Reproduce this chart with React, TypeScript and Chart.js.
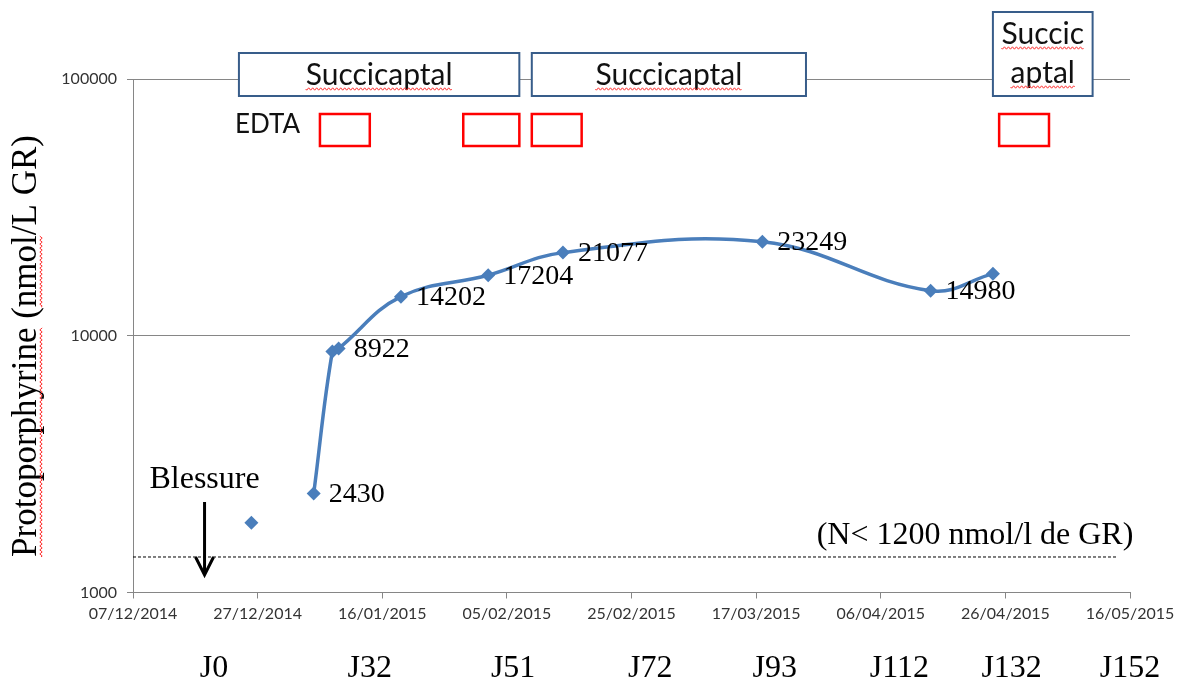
import React, { useEffect, useRef } from 'react';
import { Chart, registerables } from 'chart.js';

Chart.register(...registerables);

// ---- Data ----
const seriesDates = ['05/01/2015', '08/01/2015', '09/01/2015', '19/01/2015', '02/02/2015', '14/02/2015', '18/03/2015', '14/04/2015', '24/04/2015'];
const seriesValues = [2430, 8690, 8922, 14202, 17204, 21077, 23249, 14980, 17450];
const seriesLabels = ['2430', '', '8922', '14202', '17204', '21077', '23249', '14980', ''];
const isolatedDates = ['26/12/2014'];
const isolatedValues = [1870];

const xStart = '07/12/2014';
const xEnd = '16/05/2015';
const xStepDays = 20;
const yTicks = [1000, 10000, 100000];

const dayLabels = ['J0', 'J32', 'J51', 'J72', 'J93', 'J112', 'J132', 'J152'];
const dayLabelDates = ['20/12/2014', '14/01/2015', '06/02/2015', '28/02/2015', '20/03/2015', '09/04/2015', '27/04/2015', '16/05/2015'];

const treatmentLabels = [['Succicaptal'], ['Succicaptal'], ['Succic', 'aptal']];
const treatmentStarts = ['24/12/2014', '09/02/2015', '24/04/2015'];
const treatmentEnds = ['07/02/2015', '25/03/2015', '10/05/2015'];
const edtaStarts = ['06/01/2015', '29/01/2015', '09/02/2015', '25/04/2015'];
const edtaEnds = ['14/01/2015', '07/02/2015', '17/02/2015', '03/05/2015'];
const edtaLabel = 'EDTA';

const injuryLabel = 'Blessure';
const injuryDate = '18/12/2014';
const normalLabel = '(N< 1200 nmol/l de GR)';
const normalValue = 1375;
const normalEnd = '14/05/2015';
const yTitle = 'Protoporphyrine (nmol/L GR)';

// ---- helpers ----
const DAY = 86400000;
const toMs = (s: string) => {
  const [d, m, y] = s.split('/').map(Number);
  return Date.UTC(y, m - 1, d);
};
const pad = (n: number) => (n < 10 ? '0' + n : '' + n);
const fmt = (ms: number) => {
  const dt = new Date(ms);
  return pad(dt.getUTCDate()) + '/' + pad(dt.getUTCMonth() + 1) + '/' + dt.getUTCFullYear();
};
const xTickValues: number[] = [];
for (let t = toMs(xStart); t <= toMs(xEnd); t += xStepDays * DAY) xTickValues.push(t);

const SERIF = '"Liberation Serif", "Times New Roman", serif';
const SANS = 'Lato, "Open Sans", sans-serif';
const BLUE = '#4A7EBB';

function wavy(ctx: CanvasRenderingContext2D, x0: number, x1: number, y: number) {
  ctx.save();
  ctx.strokeStyle = '#FF3030';
  ctx.lineWidth = 1;
  ctx.beginPath();
  for (let x = x0; x <= x1; x += 1) {
    const yy = y + 1.2 * Math.sin(((x - x0) / 4) * 2 * Math.PI);
    if (x === x0) ctx.moveTo(x, yy);
    else ctx.lineTo(x, yy);
  }
  ctx.stroke();
  ctx.restore();
}

const decorPlugin = {
  id: 'decor',
  afterDatasetsDraw(chart: any) {
    const ctx: CanvasRenderingContext2D = chart.ctx;
    const xs = chart.scales.x;
    const ys = chart.scales.y;
    const area = chart.chartArea;

    // data labels
    const meta = chart.getDatasetMeta(0);
    ctx.save();
    ctx.fillStyle = '#000';
    ctx.font = '28px ' + SERIF;
    ctx.textAlign = 'left';
    ctx.textBaseline = 'middle';
    meta.data.forEach((el: any, i: number) => {
      const lab = seriesLabels[i];
      if (lab) ctx.fillText(lab, el.x + 15, el.y + 1);
    });
    ctx.restore();

    // normal reference dashed line
    ctx.save();
    const ny = ys.getPixelForValue(normalValue);
    ctx.strokeStyle = '#000';
    ctx.lineWidth = 1;
    ctx.setLineDash([3, 2]);
    ctx.beginPath();
    ctx.moveTo(area.left, ny);
    ctx.lineTo(xs.getPixelForValue(toMs(normalEnd)), ny);
    ctx.stroke();
    ctx.setLineDash([]);
    ctx.fillStyle = '#000';
    ctx.font = '32px ' + SERIF;
    ctx.textAlign = 'center';
    ctx.textBaseline = 'alphabetic';
    ctx.fillText(normalLabel, 975, ny - 13);
    ctx.restore();

    // injury arrow
    ctx.save();
    const ax = xs.getPixelForValue(toMs(injuryDate)) + 3;
    ctx.fillStyle = '#000';
    ctx.font = '32px ' + SERIF;
    ctx.textAlign = 'center';
    ctx.textBaseline = 'alphabetic';
    ctx.fillText(injuryLabel, ax, 488);
    ctx.strokeStyle = '#000';
    ctx.lineWidth = 3;
    ctx.beginPath();
    ctx.moveTo(ax, 502);
    ctx.lineTo(ax, 572);
    ctx.stroke();
    ctx.beginPath();
    ctx.moveTo(ax - 9, 557);
    ctx.lineTo(ax, 575);
    ctx.lineTo(ax + 9, 557);
    ctx.stroke();
    ctx.restore();

    // treatment boxes
    ctx.save();
    treatmentLabels.forEach((lines, i) => {
      const x0 = xs.getPixelForValue(toMs(treatmentStarts[i]));
      const x1 = xs.getPixelForValue(toMs(treatmentEnds[i]));
      const top = lines.length > 1 ? 12 : 53;
      const bottom = 96;
      ctx.fillStyle = '#fff';
      ctx.fillRect(x0, top, x1 - x0, bottom - top);
      ctx.strokeStyle = '#385D8A';
      ctx.lineWidth = 2;
      ctx.strokeRect(x0, top, x1 - x0, bottom - top);
      ctx.fillStyle = '#111';
      ctx.font = '30px ' + SANS;
      ctx.textAlign = 'center';
      ctx.textBaseline = 'alphabetic';
      const cx = (x0 + x1) / 2;
      lines.forEach((t, j) => {
        const by = lines.length > 1 ? 44 + j * 39 : 85;
        ctx.fillText(t, cx, by);
        const w = ctx.measureText(t).width;
        wavy(ctx, cx - w / 2, cx + w / 2, by + 4);
      });
    });
    ctx.restore();

    // EDTA
    ctx.save();
    ctx.fillStyle = '#111';
    ctx.font = '26px ' + SANS;
    ctx.textAlign = 'left';
    ctx.textBaseline = 'alphabetic';
    ctx.fillText(edtaLabel, 235, 133);
    ctx.strokeStyle = '#FF0000';
    ctx.lineWidth = 2.5;
    edtaStarts.forEach((s, i) => {
      const x0 = xs.getPixelForValue(toMs(s));
      const x1 = xs.getPixelForValue(toMs(edtaEnds[i]));
      ctx.strokeRect(x0, 114, x1 - x0, 32);
    });
    ctx.restore();

    // day labels
    ctx.save();
    ctx.fillStyle = '#000';
    ctx.font = '32px ' + SERIF;
    ctx.textAlign = 'center';
    ctx.textBaseline = 'alphabetic';
    dayLabels.forEach((t, i) => {
      ctx.fillText(t, xs.getPixelForValue(toMs(dayLabelDates[i])), 677);
    });
    ctx.restore();

    // y title
    ctx.save();
    ctx.translate(36, 346);
    ctx.rotate(-Math.PI / 2);
    ctx.fillStyle = '#000';
    ctx.font = '35px ' + SERIF;
    ctx.textAlign = 'center';
    ctx.textBaseline = 'alphabetic';
    ctx.fillText(yTitle, 0, 0);
    const total = ctx.measureText(yTitle).width;
    const w1 = ctx.measureText('Protoporphyrine').width;
    const wPre = ctx.measureText('Protoporphyrine (').width;
    const wNmol = ctx.measureText('nmol').width;
    wavy(ctx, -total / 2, -total / 2 + w1, 5);
    wavy(ctx, -total / 2 + wPre, -total / 2 + wPre + wNmol, 5);
    ctx.restore();
  },
};

export default function App() {
  const ref = useRef<HTMLCanvasElement | null>(null);

  useEffect(() => {
    if (!ref.current) return;
    const mainPoints = seriesDates.map((d, i) => ({ x: toMs(d), y: seriesValues[i] }));
    const isoPoints = isolatedDates.map((d, i) => ({ x: toMs(d), y: isolatedValues[i] }));
    const chart = new Chart(ref.current, {
      type: 'line',
      data: {
        datasets: [
          {
            data: mainPoints,
            borderColor: BLUE,
            backgroundColor: BLUE,
            borderWidth: 3.5,
            tension: 0.4,
            pointStyle: 'rectRot',
            pointRadius: 7,
            pointBackgroundColor: BLUE,
            pointBorderColor: BLUE,
            pointBorderWidth: 0,
          },
          {
            data: isoPoints,
            showLine: false,
            pointStyle: 'rectRot',
            pointRadius: 7,
            pointBackgroundColor: BLUE,
            pointBorderColor: BLUE,
            pointBorderWidth: 0,
          },
        ],
      },
      options: {
        responsive: false,
        animation: false,
        layout: { padding: { top: 79, right: 48, bottom: 0, left: 0 } },
        plugins: { legend: { display: false }, tooltip: { enabled: false } },
        scales: {
          x: {
            type: 'linear',
            min: toMs(xStart),
            max: toMs(xEnd),
            afterBuildTicks: (s: any) => {
              s.ticks = xTickValues.map((v) => ({ value: v }));
            },
            afterFit: (s: any) => {
              s.height = 97.5;
              s.paddingLeft = 0;
              s.paddingRight = 0;
            },
            grid: { display: true, drawOnChartArea: false, drawTicks: true, tickLength: 6, color: '#868686' },
            border: { color: '#868686', width: 1 },
            ticks: {
              callback: (v: any) => fmt(Number(v)),
              font: { family: SANS, size: 16 },
              color: '#333',
              padding: 6,
              maxRotation: 0,
              autoSkip: false,
            },
          },
          y: {
            type: 'logarithmic',
            min: 1000,
            max: 100000,
            afterBuildTicks: (s: any) => {
              s.ticks = yTicks.map((v) => ({ value: v }));
            },
            afterFit: (s: any) => {
              s.width = 133;
            },
            grid: { color: '#868686', tickLength: 6, drawTicks: true },
            border: { color: '#868686', width: 1 },
            ticks: {
              callback: (v: any) => String(v),
              font: { family: SANS, size: 16 },
              color: '#333',
              padding: 10,
            },
          },
        },
      },
      plugins: [decorPlugin],
    } as any);
    return () => chart.destroy();
  }, []);

  return (
    <div style={{ position: 'fixed', left: 0, top: 0, width: 1178, height: 690, background: '#fff' }}>
      <canvas ref={ref} width={1178} height={690} style={{ display: 'block', width: 1178, height: 690 }} />
    </div>
  );
}
